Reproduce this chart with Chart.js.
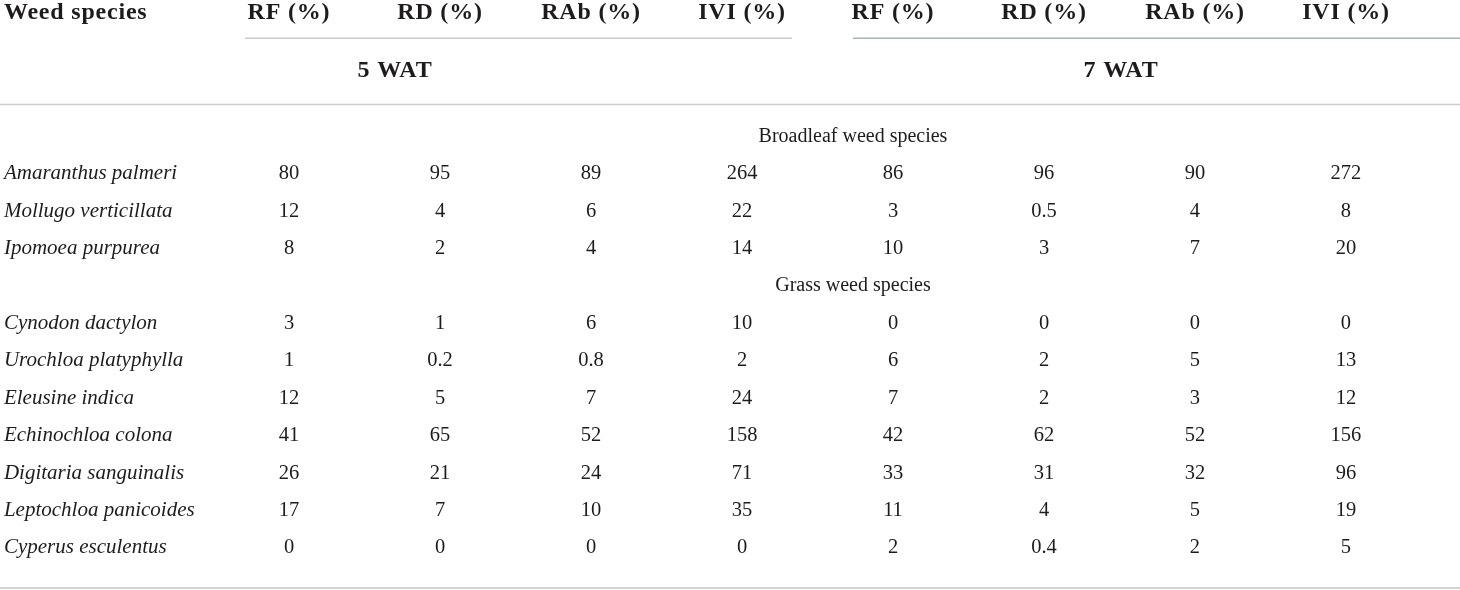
<!DOCTYPE html>
<html>
<head>
<meta charset="utf-8">
<title>Weed species</title>
<script src="https://cdn.jsdelivr.net/npm/chart.js@4.4.1/dist/chart.umd.min.js"></script>
<style>
  html, body { margin: 0; padding: 0; background: #fff; }
  canvas { display: block; }
</style>
</head>
<body>
<canvas id="weedTable" width="1460" height="590"></canvas>
<script>
// table content
var broadleaf = ['Amaranthus palmeri', 'Mollugo verticillata', 'Ipomoea purpurea'];
var grass = ['Cynodon dactylon', 'Urochloa platyphylla', 'Eleusine indica', 'Echinochloa colona',
    'Digitaria sanguinalis', 'Leptochloa panicoides', 'Cyperus esculentus'];
var groupLabels = ['Broadleaf weed species', 'Grass weed species'];
var periods = ['5 WAT', '7 WAT'];
var colHeaders = ['RF (%)', 'RD (%)', 'RAb (%)', 'IVI (%)', 'RF (%)', 'RD (%)', 'RAb (%)', 'IVI (%)'];

var rf5  = [80, 12, 8, 3, 1, 12, 41, 26, 17, 0];
var rd5  = [95, 4, 2, 1, 0.2, 5, 65, 21, 7, 0];
var rab5 = [89, 6, 4, 6, 0.8, 7, 52, 24, 10, 0];
var ivi5 = [264, 22, 14, 10, 2, 24, 158, 71, 35, 0];
var rf7  = [86, 3, 10, 0, 6, 7, 42, 33, 11, 2];
var rd7  = [96, 0.5, 3, 0, 2, 2, 62, 31, 4, 0.4];
var rab7 = [90, 4, 7, 0, 5, 3, 52, 32, 5, 2];
var ivi7 = [272, 8, 20, 0, 13, 12, 156, 96, 19, 5];

var columns = [rf5, rd5, rab5, ivi5, rf7, rd7, rab7, ivi7];

// row index of each species: group heading rows sit at 0 and broadleaf.length + 1
var species = broadleaf.concat(grass);
var speciesRows = species.map(function (s, i) {
    return i < broadleaf.length ? i + 1 : i + 2;
});

var TEXT = '#1f1b1c';
var SERIF = '"Liberation Serif", "Times New Roman", serif';

// table layout in scale units (x: column number, y: row number)
var X_MIN = -0.914, X_MAX = 8.755;
var Y_MIN = -3.65, Y_MAX = 12.125;
var NAME_X = -0.888;
var HEAD_Y = -3.30, RULE1_Y = -2.63, PERIOD_Y = -1.765, RULE2_Y = -0.856, BOTTOM_Y = 12.07;
var periodX = [1.702, 6.51];
var groupX = 4.735;

var datasets = [];

columns.forEach(function (col, c) {
    datasets.push({
        type: 'scatter',
        label: colHeaders[c],
        kind: 'value',
        data: col.map(function (v, i) { return { x: c + 1, y: speciesRows[i], text: String(v) }; }),
        pointRadius: 0
    });
});

datasets.push({
    type: 'scatter',
    label: 'species',
    kind: 'name',
    data: species.map(function (s, i) { return { x: NAME_X, y: speciesRows[i], text: s }; }),
    pointRadius: 0
});

datasets.push({
    type: 'scatter',
    label: 'headers',
    kind: 'header',
    data: [{ x: NAME_X, y: HEAD_Y, text: 'Weed species', align: 'left' }].concat(
        colHeaders.map(function (h, c) { return { x: c + 1, y: HEAD_Y, text: h, align: 'center' }; }),
        periods.map(function (p, k) { return { x: periodX[k], y: PERIOD_Y, text: p, align: 'center' }; })
    ),
    pointRadius: 0
});

datasets.push({
    type: 'scatter',
    label: 'groups',
    kind: 'group',
    data: groupLabels.map(function (g, k) {
        return { x: groupX, y: k === 0 ? 0 : broadleaf.length + 1, text: g };
    }),
    pointRadius: 0
});

function rule(x0, x1, y, color, width) {
    return {
        type: 'line',
        label: 'rule',
        data: [{ x: x0, y: y }, { x: x1, y: y }],
        borderColor: color,
        borderWidth: width,
        pointRadius: 0,
        fill: false
    };
}
datasets.push(rule(0.709, 4.331, RULE1_Y, '#c9c9c9', 1.5));
datasets.push(rule(4.735, X_MAX, RULE1_Y, '#a3b6b9', 1.5));
datasets.push(rule(X_MIN, X_MAX, RULE2_Y, '#cccccc', 1.5));
datasets.push(rule(X_MIN, X_MAX, BOTTOM_Y, '#c6c6c6', 1.5));

var cellText = {
    id: 'cellText',
    afterDatasetsDraw: function (chart) {
        var ctx = chart.ctx;
        ctx.save();
        ctx.fillStyle = TEXT;
        ctx.textBaseline = 'middle';
        chart.data.datasets.forEach(function (ds, di) {
            if (!ds.kind) return;
            var meta = chart.getDatasetMeta(di);
            meta.data.forEach(function (pt, i) {
                var d = ds.data[i];
                if (ds.kind === 'value') {
                    ctx.font = '20.5px ' + SERIF;
                    ctx.letterSpacing = '0px';
                    ctx.textAlign = 'center';
                } else if (ds.kind === 'name') {
                    ctx.font = 'italic 21px ' + SERIF;
                    ctx.letterSpacing = '0px';
                    ctx.textAlign = 'left';
                } else if (ds.kind === 'group') {
                    ctx.font = '20px ' + SERIF;
                    ctx.letterSpacing = '0px';
                    ctx.textAlign = 'center';
                } else {
                    ctx.font = 'bold 24px ' + SERIF;
                    ctx.letterSpacing = '0.8px';
                    ctx.textAlign = d.align;
                }
                ctx.fillText(d.text, pt.x, pt.y);
            });
        });
        ctx.restore();
    }
};

var chart = new Chart(document.getElementById('weedTable').getContext('2d'), {
    type: 'scatter',
    data: { datasets: datasets },
    options: {
        responsive: false,
        animation: false,
        layout: { padding: 0 },
        plugins: {
            legend: { display: false },
            tooltip: { enabled: false }
        },
        scales: {
            x: { type: 'linear', min: X_MIN, max: X_MAX, display: false },
            y: { type: 'linear', min: Y_MIN, max: Y_MAX, reverse: true, display: false }
        }
    },
    plugins: [cellText]
});
</script>
</body>
</html>
